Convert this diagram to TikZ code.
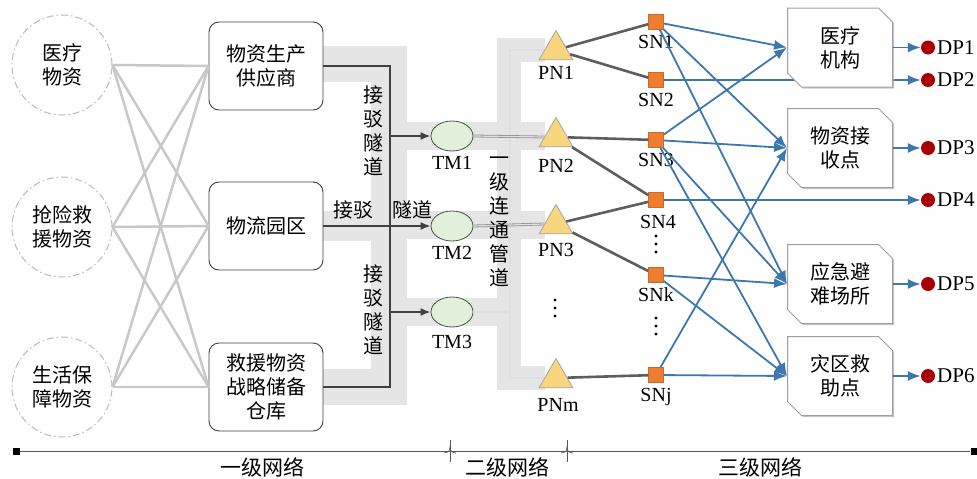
\documentclass[tikz,border=0pt]{standalone}
\usepackage{fontspec}
\setmainfont{Liberation Serif}
\newfontfamily\cjk{Noto Sans CJK SC}
\usetikzlibrary{arrows.meta,shapes.geometric,shapes.misc,backgrounds,shadows}
\definecolor{bandgray}{HTML}{E5E5E5}
\definecolor{linkgray}{HTML}{C8C8C8}
\definecolor{pnedge}{HTML}{5E5E5E}
\definecolor{arrowblue}{HTML}{3C77B0}
\definecolor{snorange}{HTML}{EE7D30}
\definecolor{pnyellow}{HTML}{F9D67E}
\definecolor{tmgreen}{HTML}{E2EFDA}
\definecolor{dpred}{HTML}{A80000}
\begin{document}
\begin{tikzpicture}[x=1pt,y=-1pt,
  cn/.style={font={\cjk\fontsize{20}{24}\selectfont}, align=center, inner sep=0pt},
  lat/.style={font={\fontsize{20}{22}\selectfont}, inner sep=0pt},
  src/.style={circle, draw=gray!55, line width=1pt, dash pattern=on 7pt off 3pt on 1.5pt off 3pt, minimum size=100pt, cn},
  box/.style={rectangle, rounded corners=10pt, draw=black!75, line width=0.9pt, minimum width=114pt, minimum height=88pt, cn, fill=white},
  dest/.style={chamfered rectangle, chamfered rectangle corners={north east,south west}, chamfered rectangle xsep=7pt, chamfered rectangle ysep=7pt, draw=gray!75, line width=1pt, fill=white, minimum width=105pt, minimum height=79pt, cn, drop shadow={shadow xshift=1.5pt,shadow yshift=-1.5pt,fill=gray!60,opacity=0.7}},
  tmnode/.style={ellipse, draw=gray!85!green!60!black, line width=0.8pt, fill=tmgreen, minimum width=42pt, minimum height=30pt, inner sep=0pt},
  pnnode/.style={regular polygon, regular polygon sides=3, minimum size=39pt, inner sep=0pt, fill=pnyellow, draw=gray!70, line width=0.8pt},
  snnode/.style={rectangle, minimum size=15pt, inner sep=0pt, fill=snorange, draw=snorange!85!black, line width=0.5pt},
  dpnode/.style={circle, minimum size=14pt, inner sep=0pt, fill=dpred},
  link/.style={draw=linkgray, line width=2.5pt},
  tunnel/.style={draw=black!75, line width=1.6pt},
  tarrow/.style={tunnel, -{Latex[length=10pt,width=8pt]}},
  pipe/.style={draw=gray!85, double=gray!25, double distance=1.2pt, line width=0.8pt},
  pnlink/.style={draw=pnedge, line width=2.6pt},
  flow/.style={draw=arrowblue, line width=1.8pt, -{Latex[length=13pt,width=10pt]}},
  band/.style={draw=bandgray, line join=miter}
]
\useasboundingbox (0,0) rectangle (977,479);

% ---- level 1 sources and suppliers
\node[src] (S1) at (62,65) {医疗\\物资};
\node[src] (S2) at (62,227) {抢险救\\援物资};
\node[src] (S3) at (62,387) {生活保\\障物资};

\node[box] (W1) at (266,66) {物资生产\\供应商};
\node[box] (W2) at (266,226) {物流园区};
\node[box] (W3) at (266,387) {救援物资\\战略储备\\仓库};

\foreach \a in {S1,S2,S3}
  \foreach \b in {W1,W2,W3}
    \draw[link] (\a.east) -- (\b.west);

% ---- transfer nodes
\node[tmnode] (TM1) at (452,136) {};
\node[tmnode] (TM2) at (452,226) {};
\node[tmnode] (TM3) at (452,312) {};
\node[lat] (TML1) at (452,163) {TM1};
\node[lat] (TML2) at (452,253) {TM2};
\node[lat] (TML3) at (452,342) {TM3};

% ---- PN nodes
\node[pnnode] (PN1) at (556,50) {};
\node[pnnode] (PN2) at (556,137) {};
\node[pnnode] (PN3) at (556,224) {};
\node[pnnode] (PNm) at (556,378) {};
\node[lat] (PNL1) at (556,73) {PN1};
\node[lat] (PNL2) at (556,166) {PN2};
\node[lat] (PNL3) at (556,250) {PN3};
\node[lat] (PNLm) at (558,405) {PNm};
\foreach \yy in {300,308,316} \fill (555,\yy) circle (1.6pt);

% ---- SN nodes
\node[snnode] (SN1) at (656,22) {};
\node[snnode] (SN2) at (656,80) {};
\node[snnode] (SN3) at (656,140) {};
\node[snnode] (SN4) at (656,200) {};
\node[snnode] (SNk) at (656,275) {};
\node[snnode] (SNj) at (656,375) {};
\node[lat] (SNL1) at (656,42) {SN1};
\node[lat] (SNL2) at (656,100) {SN2};
\node[lat] (SNL3) at (656,160) {SN3};
\node[lat] (SNL4) at (658,222) {SN4};
\node[lat] (SNLk) at (656,295) {SNk};
\node[lat] (SNLj) at (656,397) {SNj};
\foreach \yy in {236,244,252,318,326,334} \fill (656,\yy) circle (1.6pt);

% ---- destinations
\node[dest] (B1) at (840,47.5) {医疗\\机构};
\node[dest] (B2) at (840,148) {物资接\\收点};
\node[dest] (B3) at (840,284) {应急避\\难场所};
\node[dest] (B4) at (840,376) {灾区救\\助点};

\node[dpnode] (DP1) at (928,47.5) {};
\node[dpnode] (DP2) at (928,80) {};
\node[dpnode] (DP3) at (928,148) {};
\node[dpnode] (DP4) at (928,200) {};
\node[dpnode] (DP5) at (928,284) {};
\node[dpnode] (DP6) at (928,376) {};
\node[lat, anchor=west, font={\fontsize{21}{22}\selectfont}] (DPL1) at (937,47.5) {DP1};
\node[lat, anchor=west, font={\fontsize{21}{22}\selectfont}] (DPL2) at (937,80) {DP2};
\node[lat, anchor=west, font={\fontsize{21}{22}\selectfont}] (DPL3) at (937,148) {DP3};
\node[lat, anchor=west, font={\fontsize{21}{22}\selectfont}] (DPL4) at (937,200) {DP4};
\node[lat, anchor=west, font={\fontsize{21}{22}\selectfont}] (DPL5) at (937,284) {DP5};
\node[lat, anchor=west, font={\fontsize{21}{22}\selectfont}] (DPL6) at (937,376) {DP6};

% ---- background bands
\begin{pgfonlayer}{background}
  \draw[band, line width=36pt] (323,64) -- (389,64) -- (389,387) -- (323,387);
  \draw[band, line width=30pt] (323,226) -- (389,226);
  \draw[band, line width=28pt] (389,136) -- (545,136);
  \draw[band, line width=28pt] (389,225) -- (545,225);
  \draw[band, line width=28pt] (389,312) -- (521,312);
  \draw[band, line width=24pt] (545,50) -- (509,50) -- (509,378) -- (545,378);
  \draw[flow] (SN2) -- (DP2);
\end{pgfonlayer}

% ---- connection tunnels (level 1)
\coordinate (J1) at (390,66);
\coordinate (J3) at (390,387);
\coordinate (K1) at (390,136);
\coordinate (K3) at (390,312);
\draw[tunnel] (W1.east) -- (J1) -- (J3) -- (W3.east);
\draw[tarrow] (K1) -- (TM1.west);
\draw[tarrow] (W2.east) -- (TM2.west);
\draw[tarrow] (K3) -- (TM3.west);

\node[cn] (T1) at (373,131) {接\\驳\\隧\\道};
\node[cn] (T2) at (373,310) {接\\驳\\隧\\道};
\node[cn] (T3) at (353,210) {接驳};
\node[cn] (T4) at (412,210) {隧道};

% ---- level 2 pipeline
\coordinate (Q1) at (510,50);
\coordinate (Q2) at (510,378);
\coordinate (Q3) at (510,312);
\draw[pipe] (PN1.west) -- (Q1) -- (Q2) -- (PNm.west);
\draw[pipe] (TM1.east) -- (PN2.west);
\draw[pipe] (TM2.east) -- (PN3.west);
\draw[pipe] (TM3.east) -- (Q3);
\node[cn] (T5) at (499,222) {一\\级\\连\\通\\管\\道};

% ---- PN to SN
\draw[pnlink] (PN1) -- (SN1);
\draw[pnlink] (PN1) -- (SN2);
\draw[pnlink] (PN2) -- (SN3);
\draw[pnlink] (PN2) -- (SN4);
\draw[pnlink] (PN3) -- (SN4);
\draw[pnlink] (PN3) -- (SNk);
\draw[pnlink] (PNm) -- (SNj);

% ---- SN to destinations
\draw[flow] (SN1) -- (B1.west);
\draw[flow] (SN1) -- (B2.west);
\draw[flow] (SN1) -- (B3.west);
\draw[flow] (SN3) -- (B1.west);
\draw[flow] (SN3) -- (B2.west);
\draw[flow] (SN3) -- (B3.west);
\draw[flow] (SN3) -- (B4.west);
\draw[flow] (SN4) -- (DP4);
\draw[flow] (SNk) -- (B3.west);
\draw[flow] (SNk) -- (B4.west);
\draw[flow] (SNj) -- (B2.west);
\draw[flow] (SNj) -- (B4.west);

\draw[flow] (B1.east) -- (DP1);
\draw[flow] (B2.east) -- (DP3);
\draw[flow] (B3.east) -- (DP5);
\draw[flow] (B4.east) -- (DP6);

% ---- axis
\node[fill=black, minimum size=7pt, inner sep=0pt] (AL) at (16,451) {};
\node[fill=black, minimum size=7pt, inner sep=0pt] (AR) at (974,451) {};
\draw[black!65, line width=0.9pt] (AL) -- (AR);
\coordinate (X1) at (450,451);
\coordinate (X2) at (567,451);
\foreach \c in {X1,X2} {
  \draw[black!65, line width=0.8pt] ([yshift=-11pt]\c) -- ([yshift=11pt]\c);
  \draw[black!65, line width=0.7pt] ([xshift=-6pt,yshift=-2pt]\c) .. controls ([xshift=-1pt,yshift=-1pt]\c) .. ([yshift=4pt]\c) .. controls ([xshift=1pt,yshift=-1pt]\c) .. ([xshift=6pt,yshift=-2pt]\c);
}
\node[cn, font={\cjk\fontsize{21}{24}\selectfont}] (N1) at (262,467) {一级网络};
\node[cn, font={\cjk\fontsize{21}{24}\selectfont}] (N2) at (507,467) {二级网络};
\node[cn, font={\cjk\fontsize{21}{24}\selectfont}] (N3) at (760,467) {三级网络};
\end{tikzpicture}
\end{document}
